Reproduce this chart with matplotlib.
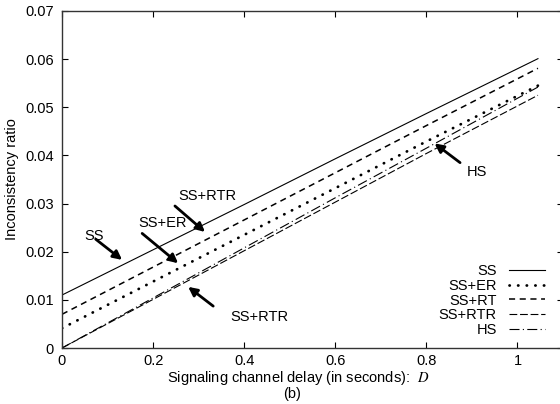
import matplotlib
matplotlib.use('Agg')
import matplotlib.pyplot as plt

plt.rcParams['font.family'] = ['Liberation Sans', 'DejaVu Sans']
plt.rcParams['font.size'] = 10
plt.rcParams['mathtext.fontset'] = 'stix'

# Inconsistency ratio vs. signaling channel delay D
delay = [0, 0.2, 0.4, 0.6, 0.8, 1.045]
ss = [0.0110, 0.0204, 0.0298, 0.0393, 0.0487, 0.0601]
ss_er = [0.0041, 0.0138, 0.0235, 0.0332, 0.0429, 0.0545]
ss_rt = [0.0070, 0.0168, 0.0266, 0.0364, 0.0462, 0.0581]
ss_rtr = [0.0000, 0.0101, 0.0202, 0.0303, 0.0404, 0.0525]
hs = [0.0000, 0.0104, 0.0208, 0.0312, 0.0415, 0.0542]

xticks = [0, 0.2, 0.4, 0.6, 0.8, 1.0]
xticklabels = ['0', '0.2', '0.4', '0.6', '0.8', '1']
yticks = [0, 0.01, 0.02, 0.03, 0.04, 0.05, 0.06, 0.07]
yticklabels = ['0', '0.01', '0.02', '0.03', '0.04', '0.05', '0.06', '0.07']

# (label, text position, arrow start, arrow tip)
callouts = [
    ('SS', (0.050, 0.0232), (0.074, 0.0226), (0.132, 0.0183)),
    ('SS+ER', (0.167, 0.0259), (0.176, 0.0238), (0.255, 0.0176)),
    ('SS+RTR', (0.255, 0.0315), (0.248, 0.0295), (0.314, 0.0241)),
    ('SS+RTR', (0.369, 0.0064), (0.332, 0.0087), (0.277, 0.0127)),
    ('HS', (0.888, 0.0365), (0.874, 0.0385), (0.818, 0.0425)),
]

fig = plt.figure(figsize=(5.6, 4.04), dpi=100)
ax = fig.add_axes([62 / 560, 56 / 404, 501 / 560, 337 / 404])

ax.plot(delay, ss, color='black', lw=0.8, label='SS')
ax.plot(delay, ss_er, color='black', lw=2.0, linestyle=(0, (0.1, 3.0)),
        dash_capstyle='round', label='SS+ER')
ax.plot(delay, ss_rt, color='black', lw=1.1, linestyle=(0, (4, 3)), label='SS+RT')
ax.plot(delay, ss_rtr, color='black', lw=0.8, linestyle=(0, (7, 2.5)), label='SS+RTR')
ax.plot(delay, hs, color='black', lw=0.8, linestyle=(0, (9, 3, 1, 3)), label='HS')

for label, txt, start, tip in callouts:
    ax.annotate('', xy=tip, xytext=start,
                arrowprops=dict(arrowstyle='-|>', color='black', lw=2.0,
                                mutation_scale=13, shrinkA=0, shrinkB=0))
    ax.text(txt[0], txt[1], label, ha='left', va='center', fontsize=10.5)

ax.set_xlim(0, 1.1)
ax.set_ylim(0, 0.07)
ax.set_xticks(xticks)
ax.set_xticklabels(xticklabels)
ax.set_yticks(yticks)
ax.set_yticklabels(yticklabels)
ax.tick_params(direction='in', length=4, width=0.8, top=True, right=True,
               labelsize=10.5)
ax.tick_params(axis='x', pad=4.5)
ax.tick_params(axis='y', pad=6)
for sp in ax.spines.values():
    sp.set_linewidth(1.0)
    sp.set_color('#333333')

ax.set_ylabel('Inconsistency ratio', fontsize=10.5, labelpad=4)
fig.text(298 / 560, 1 - 378 / 404, 'Signaling channel delay (in seconds):  $D$',
         ha='center', va='center', fontsize=10.5)
fig.text(292 / 560, 1 - 394 / 404, '(b)', ha='center', va='center', fontsize=10.5)

leg = ax.legend(loc='lower right', bbox_to_anchor=(545 / 560, 1 - 337 / 404),
                bbox_transform=fig.transFigure, frameon=False, markerfirst=False,
                fontsize=10.5, handlelength=2.5, handletextpad=0.8,
                labelspacing=0.05, borderpad=0, borderaxespad=0)

fig.savefig('out.png', dpi=100)
